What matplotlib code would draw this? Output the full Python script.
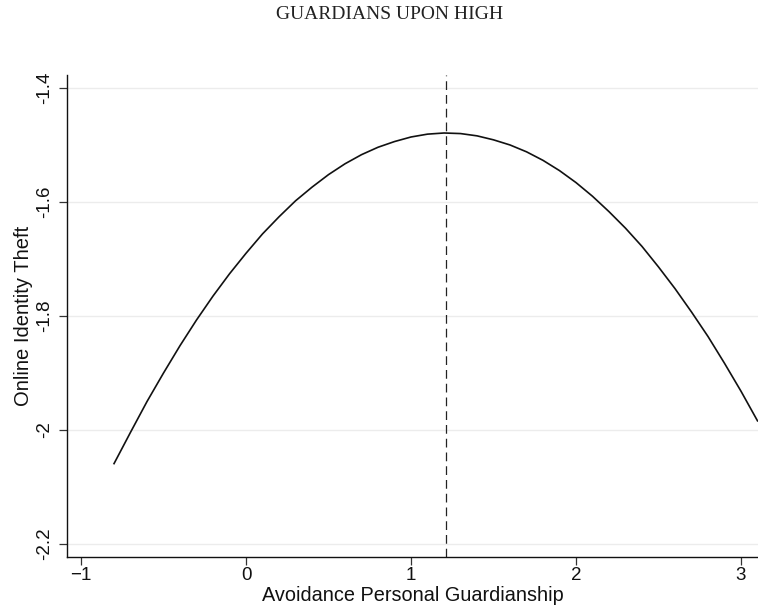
import matplotlib
matplotlib.use('Agg')
import matplotlib.pyplot as plt
import matplotlib.transforms as mtransforms

# values
x_vals = [-0.8, -0.7, -0.6, -0.5, -0.4, -0.3, -0.2, -0.1, 0.0, 0.1,
          0.2, 0.3, 0.4, 0.5, 0.6, 0.7, 0.8, 0.9, 1.0, 1.1,
          1.2, 1.3, 1.4, 1.5, 1.6, 1.7, 1.8, 1.9, 2.0, 2.1,
          2.2, 2.3, 2.4, 2.5, 2.6, 2.7, 2.8, 2.9, 3.0, 3.1]
y_vals = [-2.059, -2.004, -1.950, -1.900, -1.852, -1.807, -1.765, -1.726,
          -1.690, -1.656, -1.626, -1.598, -1.574, -1.552, -1.533, -1.517,
          -1.504, -1.494, -1.486, -1.481, -1.479, -1.480, -1.484, -1.491,
          -1.500, -1.512, -1.527, -1.545, -1.566, -1.590, -1.617, -1.646,
          -1.678, -1.714, -1.752, -1.793, -1.836, -1.883, -1.932, -1.984]
peak_x = 1.21

x_ticks = [-1, 0, 1, 2, 3]
y_ticks = [-2.2, -2.0, -1.8, -1.6, -1.4]
y_tick_labels = ['-2.2', '-2', '-1.8', '-1.6', '-1.4']
x_tick_labels = ['\u22121', '0', '1', '2', '3']

plt.rcParams['font.family'] = ['Liberation Sans', 'DejaVu Sans']

fig = plt.figure(figsize=(7.58, 6.11), dpi=100)
ax = fig.add_axes([0.0884, 0.0884, 0.9116, 0.7889])

ax.plot(x_vals, y_vals, color='#111111', linewidth=1.2,
        solid_joinstyle='round')
ax.axvline(peak_x, color='#222222', linewidth=0.9, linestyle=(0, (7, 4)))

ax.set_xlim(-1.085, 3.103)
ax.set_ylim(-2.2228, -1.3772)

ax.set_xticks(x_ticks)
ax.set_xticklabels(x_tick_labels, fontsize=13.5)
ax.set_yticks(y_ticks)
ax.set_yticklabels(y_tick_labels, rotation=90, va='center', fontsize=13.5)

# y tick labels sit a little above their ticks in the reference
shift = mtransforms.ScaledTranslation(0, 0.05, fig.dpi_scale_trans)
for lab in ax.get_yticklabels():
    lab.set_transform(lab.get_transform() + shift)

ax.grid(axis='y', color='#ececec', linewidth=1.0)
ax.set_axisbelow(True)

for side in ['top', 'right']:
    ax.spines[side].set_visible(False)
for side in ['left', 'bottom']:
    ax.spines[side].set_color('#111111')
    ax.spines[side].set_linewidth(1.0)

ax.tick_params(axis='both', direction='out', length=6, width=0.9,
               color='#333333', labelcolor='#111111')
ax.tick_params(axis='x', pad=1.5)
ax.tick_params(axis='y', pad=4)

ax.set_xlabel('Avoidance Personal Guardianship', fontsize=14.3,
              color='#111111')
ax.set_ylabel('Online Identity Theft', fontsize=14.5, color='#111111')
ax.xaxis.set_label_coords(0.5, -0.06)
ax.yaxis.set_label_coords(-0.049, 0.5)

fig.text(0.5145, 0.969, 'GUARDIANS UPON HIGH', family='Liberation Serif',
         fontsize=14, color='#222222', ha='center', va='baseline')

plt.savefig('out.png', dpi=100, facecolor='white')
